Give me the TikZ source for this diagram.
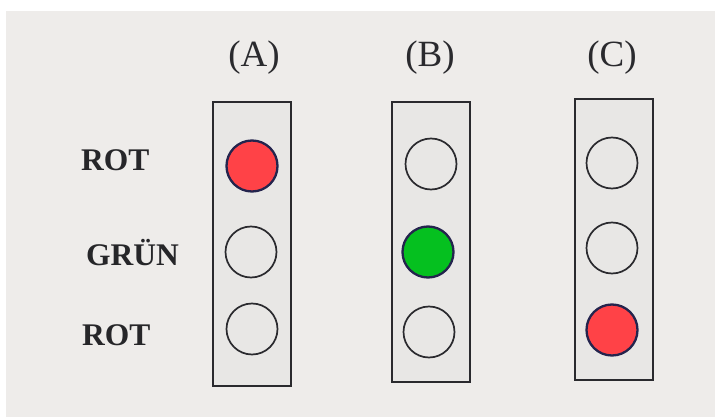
\documentclass[tikz,border=0pt]{standalone}
\usepackage{fontspec}
\setmainfont{Liberation Serif}
\definecolor{bgc}{HTML}{EEECEA}
\definecolor{boxc}{HTML}{E8E7E5}
\definecolor{redl}{HTML}{FF4247}
\definecolor{greenl}{HTML}{05C01F}
\definecolor{inkc}{HTML}{2A2A2E}
\begin{document}
\begin{tikzpicture}[x=1pt,y=-1pt,
  housing/.style={draw=inkc,line width=2.8pt,fill=boxc},
  lampoff/.style={circle,draw=inkc,line width=1.7pt,fill=boxc,minimum size=51pt,inner sep=0pt},
  lampred/.style={lampoff,fill=redl,line width=2.3pt,draw=inkc!85!blue},
  lampgreen/.style={lampoff,fill=greenl,line width=2.3pt,draw=inkc!85!blue},
  head/.style={font=\fontsize{37}{40}\selectfont,text=inkc,anchor=base,inner sep=0pt},
  side/.style={font=\fontsize{31.5}{34}\selectfont\bfseries,text=inkc!90!black,anchor=base west,inner sep=0pt}]
\useasboundingbox (0,0) rectangle (715,417);
\fill[white] (0,0) rectangle (715,417);
\fill[bgc] (6,11) rectangle (715,417);
% housings
\draw[housing] (213,102) rectangle (291,386);
\draw[housing] (392,102) rectangle (470,382);
\draw[housing] (575,99) rectangle (653,380);
% headings
\node[head] (hA) at (254,67) {(A)};
\node[head] (hB) at (430,67) {(B)};
\node[head] (hC) at (612,67) {(C)};
% side labels
\node[side] (l1) at (81,171) {ROT};
\node[side] (l2) at (86,265) {GRÜN};
\node[side] (l3) at (82,345) {ROT};
% lamps A
\node[lampred] (a1) at (252,166) {};
\node[lampoff] (a2) at (251,252) {};
\node[lampoff] (a3) at (252,329) {};
% lamps B
\node[lampoff] (b1) at (431,164) {};
\node[lampgreen] (b2) at (428,252) {};
\node[lampoff] (b3) at (429,332) {};
% lamps C
\node[lampoff] (c1) at (612,163) {};
\node[lampoff] (c2) at (612,248) {};
\node[lampred] (c3) at (612,330) {};
\end{tikzpicture}
\end{document}
